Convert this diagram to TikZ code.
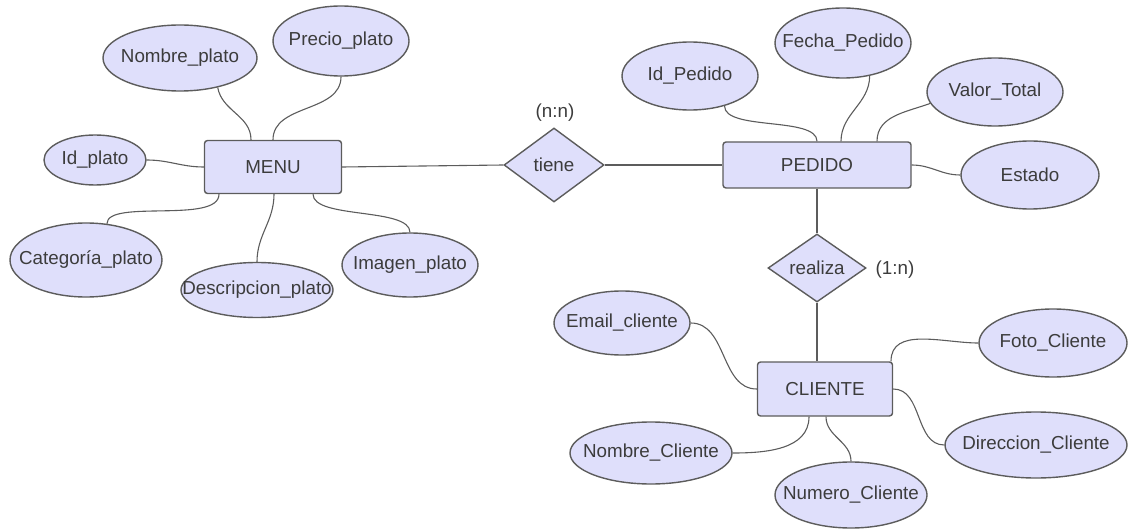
\documentclass[tikz,border=0pt]{standalone}
\usepackage{fontspec}
\setmainfont{Liberation Sans}
\usetikzlibrary{shapes.geometric}
\definecolor{fillc}{RGB}{223,223,251}
\definecolor{linec}{RGB}{92,92,92}
\definecolor{textc}{RGB}{60,60,60}
\newcommand{\zw}[1]{\makebox[0pt]{#1}}
\begin{document}
\begin{tikzpicture}[x=1pt,y=1pt,
  every node/.style={font=\fontsize{18.8}{22}\selectfont, text=textc},
  attr/.style={ellipse, draw=linec, fill=fillc, line width=1.4pt, inner sep=0pt},
  ent/.style={rectangle, rounded corners=3pt, draw=linec, fill=fillc, line width=1.4pt, inner sep=0pt},
  rel/.style={diamond, draw=linec, fill=fillc, line width=1.4pt, inner sep=0pt, aspect=1.4},
  conn/.style={draw=linec, line width=1.1pt},
  card/.style={inner sep=0pt}]
\useasboundingbox (0,0) rectangle (1129,-529);

% entities and relationships
\node[ent, minimum width=137pt, minimum height=53pt] (menu) at (273,-167) {MENU};
\node[ent, minimum width=188pt, minimum height=46pt] (pedido) at (817,-165) {PEDIDO};
\node[ent, minimum width=135pt, minimum height=54pt] (cliente) at (825,-389) {CLIENTE};
\node[rel, minimum width=100pt, minimum height=74pt] (tiene) at (554,-165) {\zw{tiene}};
\node[rel, minimum width=98pt, minimum height=68pt] (realiza) at (817,-268) {\zw{realiza}};
\node[card] (nn) at (555,-113) {(n:n)};
\node[card] (onen) at (895,-270) {(1:n)};

% attributes
\node[attr, minimum width=154pt, minimum height=66pt] (nom) at (180,-58) {\zw{Nombre\_plato}};
\node[attr, minimum width=136pt, minimum height=70pt] (prec) at (341,-41) {\zw{Precio\_plato}};
\node[attr, minimum width=102pt, minimum height=50pt] (idp) at (95,-160) {\zw{Id\_plato}};
\node[attr, minimum width=152pt, minimum height=74pt] (cat) at (86,-260) {\zw{Categoría\_plato}};
\node[attr, minimum width=152pt, minimum height=55pt] (desc) at (257,-290) {\zw{Descripcion\_plato}};
\node[attr, minimum width=136pt, minimum height=64pt] (img) at (410,-265) {\zw{Imagen\_plato}};
\node[attr, minimum width=136pt, minimum height=68pt] (idped) at (690,-76) {\zw{Id\_Pedido}};
\node[attr, minimum width=136pt, minimum height=70pt] (fecha) at (843,-43) {\zw{Fecha\_Pedido}};
\node[attr, minimum width=136pt, minimum height=68pt] (valor) at (995,-92) {\zw{Valor\_Total}};
\node[attr, minimum width=138pt, minimum height=68pt] (estado) at (1030,-175) {\zw{Estado}};
\node[attr, minimum width=136pt, minimum height=64pt] (email) at (622,-323) {\zw{Email\_cliente}};
\node[attr, minimum width=148pt, minimum height=68pt] (foto) at (1053,-343) {\zw{Foto\_Cliente}};
\node[attr, minimum width=162pt, minimum height=62pt] (nomc) at (651,-453) {\zw{Nombre\_Cliente}};
\node[attr, minimum width=152pt, minimum height=66pt] (numc) at (851,-495) {\zw{Numero\_Cliente}};
\node[attr, minimum width=182pt, minimum height=66pt] (dir) at (1036,-445) {\zw{Direccion\_Cliente}};

% connectors
\draw[conn] (nom.-38) to[out=-80,in=90] ([xshift=-22pt]menu.north);
\draw[conn] (prec.south) to[out=-90,in=90] (menu.north);
\draw[conn] (idp.east) to[out=0,in=180] (menu.west);
\draw[conn] (cat.60) .. controls +(0,25) and +(0,-30) .. ([xshift=-54pt]menu.south);
\draw[conn] ([xshift=1pt]menu.south) to[out=-90,in=90] (desc.north);
\draw[conn] ([xshift=40pt]menu.south) .. controls +(0,-25) and +(0,25) .. (img.north);
\draw[conn] (menu.east) -- (tiene.west);
\draw[conn] (tiene.east) -- (pedido.west);
\draw[conn] (pedido.south) -- (realiza.north);
\draw[conn] (realiza.south) -- (realiza.south |- cliente.north);
\draw[conn] (idped.-41) .. controls +(0,-25) and +(0,25) .. (pedido.north);
\draw[conn] (fecha.-51) to[out=-90,in=90] ([xshift=24pt]pedido.north);
\draw[conn] (valor.190) to[out=200,in=90] ([xshift=60pt]pedido.north);
\draw[conn] (pedido.east) to[out=0,in=180] (estado.west);
\draw[conn] (email.east) to[out=0,in=180] (cliente.west);
\draw[conn] ([xshift=66pt]cliente.north) to[out=90,in=180] (foto.west);
\draw[conn] (cliente.east) to[out=0,in=180] (dir.west);
\draw[conn] ([xshift=-16pt]cliente.south) to[out=-90,in=0] (nomc.east);
\draw[conn] ([xshift=1pt]cliente.south) to[out=-90,in=90] (numc.north);
\end{tikzpicture}
\end{document}
